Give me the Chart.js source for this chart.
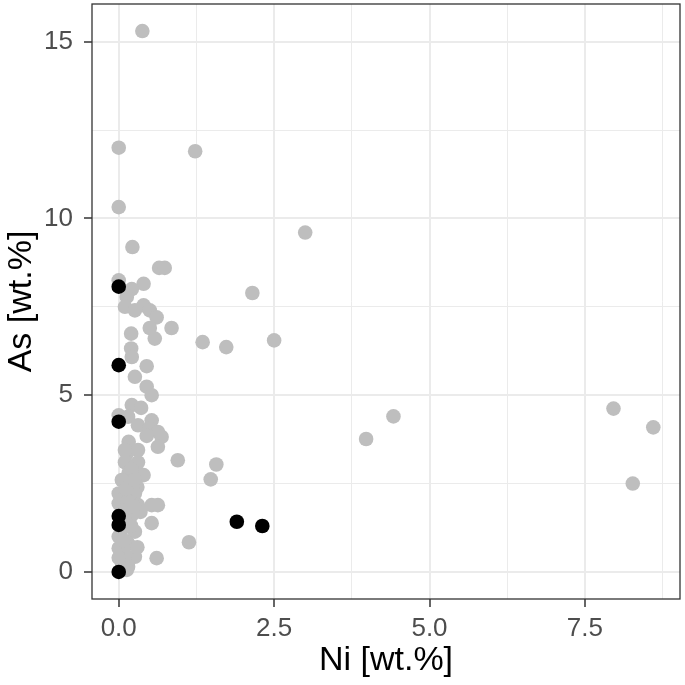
<!DOCTYPE html>
<html>
<head>
<meta charset="utf-8">
<script src="https://cdn.jsdelivr.net/npm/chart.js@4.4.1/dist/chart.umd.min.js"></script>
<style>
html,body{margin:0;padding:0;background:#fff;}
#wrap{width:685px;height:685px;position:relative;}
</style>
</head>
<body>
<div id="wrap"><canvas id="c"></canvas></div>
<script>
// Gray group
const niGray = [0.38,0,1.23,0,3.0,0.22,0.65,0.74,0,0.4,0.21,0.13,0.1,0.26,0.4,0.5,0.61,0.5,0.85,0.2,0.58,1.35,1.73,2.5,2.15,0.2,0.21,0.45,0.26,0.45,0.53,0.21,0.36,0,0.15,0.53,0.31,0.5,0.63,0.69,0.45,0.63,0.16,0.13,0.31,0.1,0.95,0.1,0.26,0.31,0.16,0.4,0.21,0.05,0.2,0.3,1.57,1.48,1.13,3.98,4.42,7.96,8.6,8.27,0,0.26,0.1,0.53,0.63,0,0.31,0.15,0.21,0.53,0.26,0,0.15,0,0.26,0.61,0.05,0.15,0.13,0.05,0.1,0.2,0.05,0.1,0.3,0,0.35,0.25,0.12,0.25,0.08];
const asGray = [15.3,12.0,11.9,10.32,9.6,9.19,8.6,8.6,8.25,8.15,8.0,7.78,7.5,7.4,7.54,7.4,7.2,6.9,6.9,6.74,6.6,6.5,6.36,6.55,7.89,6.32,6.08,5.82,5.52,5.24,5.0,4.72,4.64,4.43,4.39,4.29,4.15,4.06,3.96,3.82,3.85,3.54,3.68,3.35,3.45,3.45,3.16,3.1,3.0,3.1,2.8,2.74,2.9,2.6,2.5,2.4,3.04,2.62,0.84,3.76,4.4,4.62,4.09,2.5,2.22,2.22,2.1,1.89,1.89,1.94,1.89,2.0,1.61,1.38,1.14,1.0,0.81,0.67,0.43,0.39,0.25,0.15,0.06,1.2,1.45,1.3,1.75,0.5,0.7,0.4,1.7,1.85,2.35,2.6,0.9];
// Black group
const niBlack = [0,0,0,0,0,0,1.9,2.31];
const asBlack = [8.07,5.85,4.25,1.58,1.33,0.0,1.42,1.3];

// Axis ticks
const xMajor = [0,2.5,5,7.5];
const xMinor = [1.25,3.75,6.25,8.75];
const xLabels = ["0.0","2.5","5.0","7.5"];
const yMajor = [0,5,10,15];
const yMinor = [2.5,7.5,12.5];
const yLabels = ["0","5","10","15"];

const xTitle = "Ni [wt.%]";
const yTitle = "As [wt.%]";

const toPts = (xs, ys) => xs.map((x, i) => ({x: x, y: ys[i]}));

const FONT = "'Liberation Sans', Arial, Helvetica, sans-serif";

const panelBorder = {
  id: 'panelBorder',
  afterDraw(chart) {
    const a = chart.chartArea, ctx = chart.ctx;
    ctx.save();
    ctx.strokeStyle = '#333333';
    ctx.lineWidth = 1.3;
    ctx.strokeRect(a.left, a.top, a.right - a.left, a.bottom - a.top);
    ctx.restore();
  }
};

function tickSet(major, minor) {
  return [...major, ...minor].sort((a, b) => a - b).map(v => ({value: v}));
}
function isMajor(major, v) { return major.some(m => Math.abs(m - v) < 1e-9); }

new Chart(document.getElementById('c'), {
  type: 'scatter',
  data: {
    datasets: [
      {data: toPts(niGray, asGray), backgroundColor: '#BEBEBE', borderWidth: 0, pointRadius: 7.3, pointHoverRadius: 7.3, order: 2},
      {data: toPts(niBlack, asBlack), backgroundColor: '#000000', borderWidth: 0, pointRadius: 7.3, pointHoverRadius: 7.3, order: 1}
    ]
  },
  options: {
    responsive: true,
    maintainAspectRatio: false,
    animation: false,
    layout: {autoPadding: false, padding: {left: 0, top: 4, right: 5, bottom: 0}},
    plugins: {legend: {display: false}, tooltip: {enabled: false}},
    scales: {
      x: {
        type: 'linear',
        min: -0.43, max: 9.03,
        afterBuildTicks: s => { s.ticks = tickSet(xMajor, xMinor); },
        afterFit: s => { s.height = 86; s.paddingLeft = 0; s.paddingRight = 0; },
        border: {display: false},
        grid: {
          color: '#EBEBEB',
          lineWidth: c => isMajor(xMajor, c.tick.value) ? 2 : 1,
          tickColor: c => isMajor(xMajor, c.tick.value) ? '#333333' : 'rgba(0,0,0,0)',
          tickWidth: 1.5,
          tickLength: 8
        },
        ticks: {
          autoSkip: false, maxRotation: 0,
          padding: 6,
          color: '#4D4D4D',
          font: {family: FONT, size: 26},
          callback: v => { const i = xMajor.findIndex(m => Math.abs(m - v) < 1e-9); return i >= 0 ? xLabels[i] : ''; }
        },
        title: {display: true, text: xTitle, color: '#000', font: {family: FONT, size: 34}, padding: {top: 0, bottom: 4}}
      },
      y: {
        type: 'linear',
        min: -0.765, max: 16.065,
        afterBuildTicks: s => { s.ticks = tickSet(yMajor, yMinor); },
        afterFit: s => { s.width = 92; s.paddingTop = 0; s.paddingBottom = 0; },
        border: {display: false},
        grid: {
          color: '#EBEBEB',
          lineWidth: c => isMajor(yMajor, c.tick.value) ? 2 : 1,
          tickColor: c => isMajor(yMajor, c.tick.value) ? '#333333' : 'rgba(0,0,0,0)',
          tickWidth: 1.5,
          tickLength: 8
        },
        ticks: {
          autoSkip: false,
          padding: 11,
          color: '#4D4D4D',
          font: {family: FONT, size: 26},
          callback: v => { const i = yMajor.findIndex(m => Math.abs(m - v) < 1e-9); return i >= 0 ? yLabels[i] : ''; }
        },
        title: {display: true, text: yTitle, color: '#000', font: {family: FONT, size: 34}, padding: {top: 1, bottom: 0}}
      }
    }
  },
  plugins: [panelBorder]
});
</script>
</body>
</html>
